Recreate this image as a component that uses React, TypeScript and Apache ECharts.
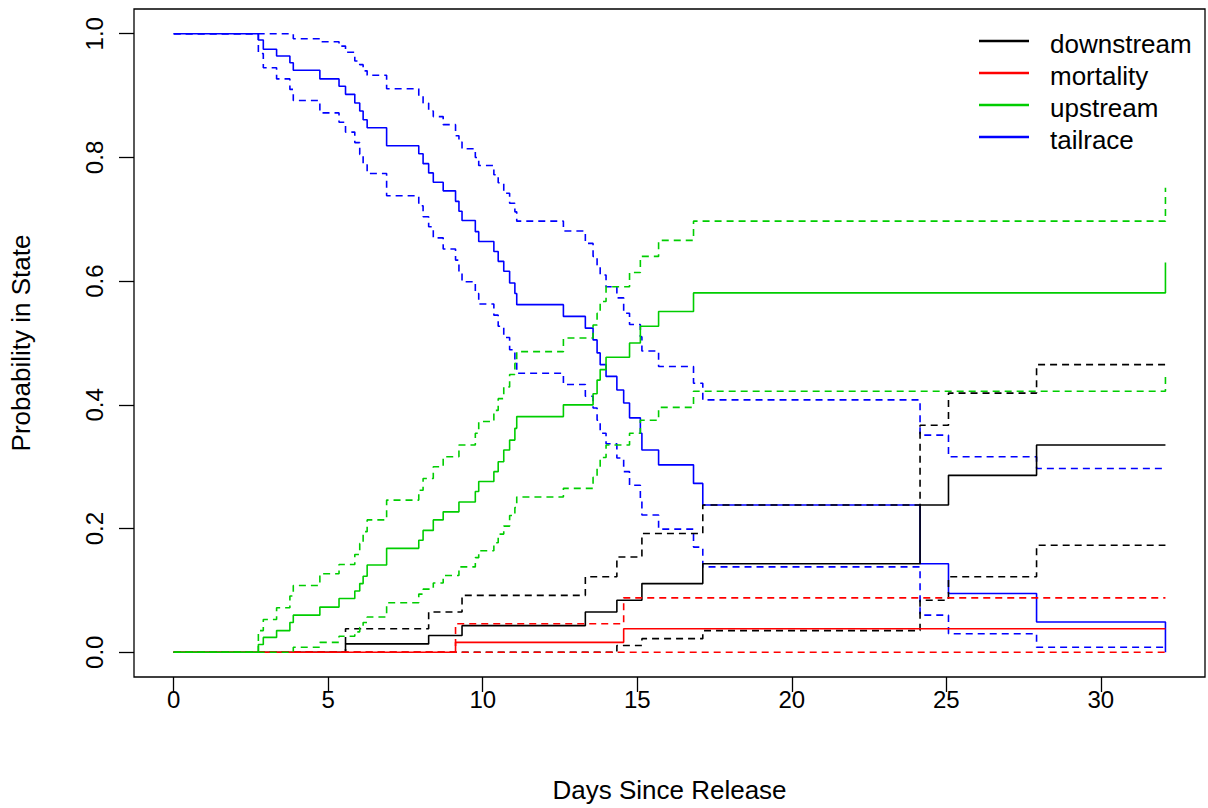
import { useEffect, useRef } from "react";
import * as echarts from "echarts";

// ---- data (days since release, probability in state) ----
const tailTimes = [0, 2.74, 2.9, 3.33, 3.76, 3.87, 4.73, 5.35, 5.56, 5.86, 6.02, 6.13, 6.26, 6.89, 7.93, 8.07, 8.25, 8.4, 8.72, 9.12, 9.23, 9.33, 9.76, 9.87, 10.36, 10.5, 10.68, 10.87, 11.04, 11.1, 12.61, 13.32, 13.57, 13.7, 13.8, 13.99, 14.34, 14.56, 14.75, 15.1, 15.15, 15.69, 16.82, 17.12, 24.15, 25.07, 27.92, 32.09];
const tailEst = [1.0, 0.99, 0.975, 0.964, 0.953, 0.941, 0.927, 0.915, 0.902, 0.888, 0.875, 0.861, 0.848, 0.819, 0.806, 0.79, 0.775, 0.76, 0.746, 0.729, 0.713, 0.698, 0.68, 0.664, 0.648, 0.632, 0.616, 0.597, 0.58, 0.562, 0.543, 0.524, 0.505, 0.484, 0.465, 0.446, 0.424, 0.403, 0.379, 0.354, 0.327, 0.303, 0.273, 0.238, 0.143, 0.095, 0.049, 0.0];
const tailLo = [1.0, 0.968, 0.945, 0.927, 0.91, 0.892, 0.872, 0.857, 0.841, 0.824, 0.805, 0.788, 0.774, 0.738, 0.722, 0.704, 0.688, 0.67, 0.652, 0.634, 0.615, 0.599, 0.58, 0.563, 0.545, 0.527, 0.509, 0.489, 0.47, 0.451, 0.433, 0.414, 0.395, 0.375, 0.354, 0.337, 0.314, 0.292, 0.27, 0.245, 0.222, 0.199, 0.17, 0.138, 0.06, 0.03, 0.008, 0.008];
const tailHi = [1.0, 1.0, 1.0, 1.0, 1.0, 0.992, 0.987, 0.98, 0.97, 0.956, 0.95, 0.94, 0.933, 0.911, 0.899, 0.888, 0.875, 0.866, 0.853, 0.835, 0.825, 0.814, 0.8, 0.787, 0.772, 0.759, 0.742, 0.726, 0.712, 0.697, 0.681, 0.661, 0.64, 0.626, 0.61, 0.591, 0.573, 0.548, 0.53, 0.51, 0.487, 0.462, 0.435, 0.408, 0.351, 0.316, 0.297, 0.297];

const upTimes = [0, 2.74, 2.9, 3.33, 3.76, 3.87, 4.73, 5.35, 5.86, 6.02, 6.13, 6.26, 6.89, 7.93, 8.07, 8.4, 8.72, 9.23, 9.76, 9.87, 10.36, 10.5, 10.68, 10.87, 11.04, 11.1, 12.61, 13.57, 13.7, 13.8, 13.99, 14.75, 15.1, 15.69, 16.82, 32.09];
const upEst = [0, 0.0125, 0.024, 0.035, 0.048, 0.06, 0.073, 0.087, 0.099, 0.111, 0.123, 0.141, 0.168, 0.181, 0.197, 0.214, 0.227, 0.243, 0.26, 0.276, 0.292, 0.308, 0.327, 0.343, 0.362, 0.381, 0.4, 0.418, 0.44, 0.457, 0.477, 0.5, 0.527, 0.551, 0.581, 0.63];
const upLo = [0, 0, 0, 0, 0, 0.008, 0.016, 0.026, 0.033, 0.04, 0.048, 0.057, 0.08, 0.094, 0.102, 0.112, 0.124, 0.138, 0.153, 0.164, 0.177, 0.191, 0.204, 0.221, 0.234, 0.251, 0.265, 0.283, 0.299, 0.315, 0.335, 0.354, 0.375, 0.396, 0.422, 0.449];
const upHi = [0, 0.035, 0.053, 0.072, 0.091, 0.108, 0.127, 0.142, 0.158, 0.176, 0.195, 0.214, 0.246, 0.262, 0.281, 0.3, 0.316, 0.335, 0.354, 0.373, 0.391, 0.41, 0.429, 0.449, 0.467, 0.486, 0.508, 0.529, 0.548, 0.567, 0.591, 0.614, 0.64, 0.666, 0.697, 0.751];

const downTimes = [0, 5.56, 8.25, 9.33, 13.32, 14.34, 15.15, 17.12, 24.15, 25.07, 27.92, 32.09];
const downEst = [0, 0.0135, 0.027, 0.043, 0.065, 0.084, 0.111, 0.143, 0.238, 0.286, 0.335, 0.335];
const downLo = [0, 0, 0, 0, 0, 0.011, 0.022, 0.035, 0.084, 0.122, 0.173, 0.173];
const downHi = [0, 0.038, 0.065, 0.092, 0.122, 0.154, 0.192, 0.238, 0.367, 0.419, 0.465, 0.465];

const mortTimes = [0, 9.12, 14.56, 32.09];
const mortEst = [0, 0.016, 0.038, 0.038];
const mortLo = [0, 0, 0, 0];
const mortHi = [0, 0.046, 0.088, 0.088];

const xTicks = [0, 5, 10, 15, 20, 25, 30];
const yTicks = [0, 0.2, 0.4, 0.6, 0.8, 1.0];
const legendNames = ["downstream", "mortality", "upstream", "tailrace"];
const legendColors = ["#000000", "#FF0000", "#00CD00", "#0000FF"];

const FONT = "'Liberation Sans', Arial, Helvetica, sans-serif";

function pairs(t: number[], v: number[]) {
  return t.map((x, i) => [x, v[i]]);
}

function stepSeries(name: string, color: string, t: number[], v: number[], dashed: boolean) {
  return {
    type: "line",
    name,
    step: "end",
    data: pairs(t, v),
    symbol: "none",
    showSymbol: false,
    silent: true,
    lineStyle: { color, width: 1.6, type: dashed ? [7, 5] : "solid" },
    itemStyle: { color },
  };
}

export default function App() {
  const ref = useRef<HTMLDivElement>(null);
  useEffect(() => {
    if (!ref.current) return;
    const chart = echarts.init(ref.current, undefined, { renderer: "svg" });
    const legendGraphics: any[] = [];
    legendNames.forEach((n, i) => {
      const y = 41 + 32 * i;
      legendGraphics.push({
        type: "line",
        shape: { x1: 979, y1: y, x2: 1029, y2: y },
        style: { stroke: legendColors[i], lineWidth: 2.5 },
      });
      legendGraphics.push({
        type: "text",
        x: 1050,
        y: y + 3,
        style: { text: n, fill: "#000", font: `26px ${FONT}`, verticalAlign: "middle" },
      });
    });
    chart.setOption({
      animation: false,
      backgroundColor: "#ffffff",
      grid: { left: 133, right: 3, top: 9, bottom: 131, show: true, borderColor: "#000", borderWidth: 1.3, backgroundColor: "transparent" },
      xAxis: {
        type: "value",
        min: -1.284,
        max: 33.37,
        name: "Days Since Release",
        nameLocation: "middle",
        nameGap: 100,
        nameTextStyle: { fontFamily: FONT, fontSize: 26, color: "#000" },
        axisLine: { show: false, onZero: false },
        splitLine: { show: false },
        axisTick: { show: true, length: 15, inside: false, customValues: xTicks, lineStyle: { color: "#000", width: 1.3 } },
        axisLabel: { customValues: xTicks, margin: 10, fontFamily: FONT, fontSize: 24, color: "#000" },
      },
      yAxis: {
        type: "value",
        min: -0.04,
        max: 1.04,
        name: "Probability in State",
        nameLocation: "middle",
        nameRotate: 90,
        nameGap: 100,
        nameTextStyle: { fontFamily: FONT, fontSize: 26, color: "#000" },
        axisLine: { show: false, onZero: false },
        splitLine: { show: false },
        axisTick: { show: true, length: 15, inside: false, customValues: yTicks, lineStyle: { color: "#000", width: 1.3 } },
        axisLabel: {
          customValues: yTicks,
          rotate: 90,
          margin: 28,
          fontFamily: FONT,
          fontSize: 24,
          color: "#000",
          formatter: (v: number) => v.toFixed(1),
        },
      },
      graphic: legendGraphics,
      series: [
        stepSeries("tailrace", "#0000FF", tailTimes, tailEst, false),
        stepSeries("tailrace lower", "#0000FF", tailTimes, tailLo, true),
        stepSeries("tailrace upper", "#0000FF", tailTimes, tailHi, true),
        stepSeries("downstream", "#000000", downTimes, downEst, false),
        stepSeries("downstream lower", "#000000", downTimes, downLo, true),
        stepSeries("downstream upper", "#000000", downTimes, downHi, true),
        stepSeries("mortality", "#FF0000", mortTimes, mortEst, false),
        stepSeries("mortality lower", "#FF0000", mortTimes, mortLo, true),
        stepSeries("mortality upper", "#FF0000", mortTimes, mortHi, true),
        stepSeries("upstream", "#00CD00", upTimes, upEst, false),
        stepSeries("upstream lower", "#00CD00", upTimes, upLo, true),
        stepSeries("upstream upper", "#00CD00", upTimes, upHi, true),
      ],
    });
    return () => chart.dispose();
  }, []);
  return <div ref={ref} style={{ position: "fixed", left: 0, top: 0, width: 1208, height: 808, background: "#fff" }} />;
}
